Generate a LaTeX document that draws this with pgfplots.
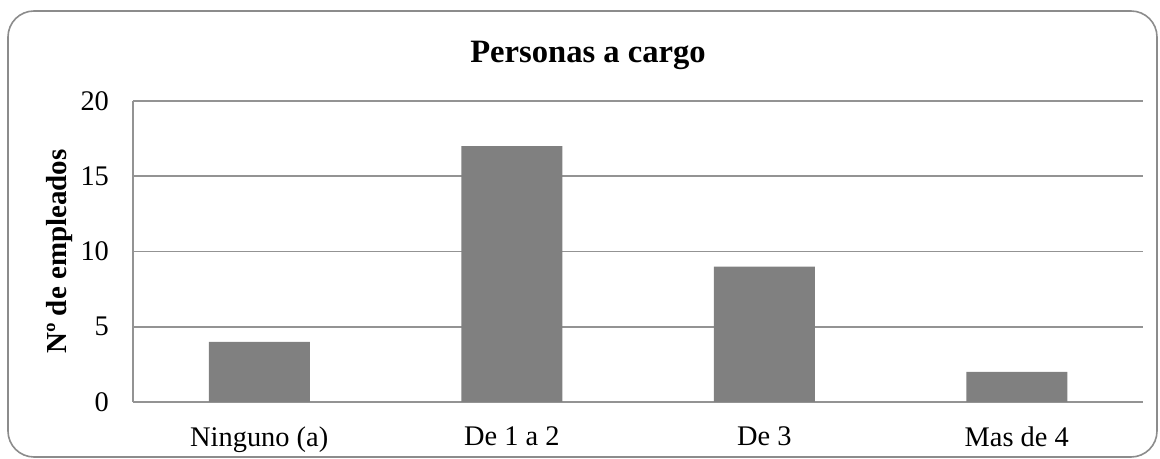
\documentclass[border=0pt]{standalone}
\usepackage{pgfplots}
\pgfplotsset{compat=1.18}
\usepackage{fontspec}
\setmainfont{Liberation Serif}
\begin{document}
\begin{tikzpicture}
\useasboundingbox (-66.5pt,-28.5pt) rectangle (513.5pt,201pt);
\draw[gray!90, line width=0.8pt, rounded corners=13pt] (-62.5pt,-27.5pt) rectangle (512pt,195.5pt);
\begin{axis}[
  at={(0,0)}, anchor=south west,
  scale only axis, width=505pt, height=150.5pt,
  xmin=-0.5, xmax=3.5, ymin=0, ymax=20,
  ytick={0,5,10,15,20},
  xtick={0,1,2,3},
  xticklabels={Ninguno (a),De 1 a 2,De 3,Mas de 4},
  major tick length=0pt,
  ymajorgrids, grid style={draw=gray!85, line width=0.8pt},
  axis line style={draw=gray!85, line width=0.8pt},
  axis x line*=bottom, axis y line*=left,
  /pgf/number format/assume math mode=true,
  tick label style={font=\fontsize{14.2}{17}\selectfont, black},
  yticklabel style={xshift=-8.5pt},
  xticklabel style={yshift=-9pt},
  ylabel={\textbf{Nº de empleados}},
  every axis y label/.style={at={(-36.5pt,75.25pt)}, rotate=90, anchor=center, font=\fontsize{14.5}{17}\selectfont},
  clip=false,
]
\addplot[ybar, bar width=50.5pt, draw=none, fill={rgb,255:red,128;green,128;blue,128}] coordinates {(0,4) (1,17) (2,9) (3,2)};
\end{axis}
\node[font=\fontsize{16.3}{19}\selectfont\bfseries] at (227.5pt,173.5pt) {Personas a cargo};
\end{tikzpicture}
\end{document}
